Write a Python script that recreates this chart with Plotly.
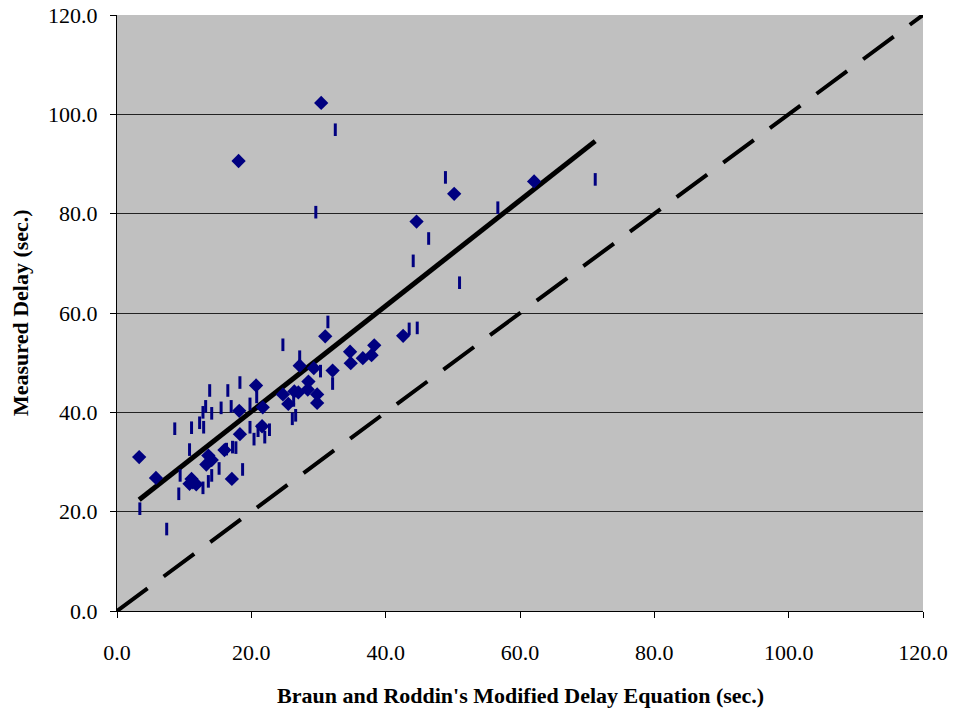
import plotly.graph_objects as go

# Diamond series (x = Braun and Roddin's modified delay, y = measured delay)
diamond_x = [3.3, 5.8, 10.8, 11.3, 11.8, 11.1, 13.6, 14.1, 13.3, 16.0, 17.1, 18.2, 18.3, 18.1,
             20.7, 21.6, 21.7, 24.7, 25.5, 26.4, 27.0, 27.2, 28.5, 28.4, 29.3, 29.8, 29.8, 30.4,
             31.0, 32.1, 34.7, 34.8, 36.6, 37.9, 38.3, 42.6, 44.6, 50.2, 62.1]
diamond_y = [31.0, 26.8, 25.6, 25.9, 25.5, 26.6, 31.3, 30.4, 29.5, 32.4, 26.6, 40.3, 35.6, 90.6,
             45.4, 37.2, 41.0, 43.6, 41.7, 44.2, 44.0, 49.4, 46.2, 44.6, 48.9, 43.6, 41.9, 102.3,
             55.3, 48.4, 52.2, 49.9, 50.9, 51.5, 53.5, 55.4, 78.4, 84.0, 86.5]

# Dash series
dash_x = [3.4, 7.4, 8.6, 9.2, 9.4, 10.8, 11.1, 12.3, 12.9, 12.8, 13.2, 13.8, 14.1, 15.5, 16.5,
          17.0, 12.8, 13.6, 14.1, 15.2, 16.3, 17.2, 17.7, 18.7, 18.3, 19.8, 20.8, 19.8, 20.4,
          21.0, 22.0, 22.7, 24.7, 27.2, 26.3, 30.3, 32.1, 31.4, 26.1, 26.6, 43.5, 44.7, 48.9,
          56.7, 46.4, 44.1, 51.0, 71.2, 32.5, 29.6]
dash_y = [20.6, 16.5, 36.7, 23.6, 27.3, 32.5, 36.9, 37.9, 37.0, 40.0, 41.2, 44.4, 39.8, 40.9, 44.4,
          41.2, 24.8, 26.1, 27.3, 28.7, 32.6, 33.0, 32.9, 28.5, 46.0, 41.7, 43.1, 37.0, 34.6,
          36.3, 35.0, 36.5, 53.6, 51.2, 42.4, 48.3, 45.8, 58.2, 38.7, 39.4, 56.8, 57.0, 87.3,
          81.2, 75.0, 70.5, 66.1, 86.9, 96.9, 80.3]

# Trend line endpoints and equality line
fit_x = [3.3, 71.2]
fit_y = [22.4, 94.6]
eq_x = [0.0, 120.0]
eq_y = [0.0, 120.0]

tick_vals = [0, 20, 40, 60, 80, 100, 120]
tick_text = ["0.0", "20.0", "40.0", "60.0", "80.0", "100.0", "120.0"]

x_title = "Braun and Roddin's Modified Delay Equation (sec.)"
y_title = "Measured Delay (sec.)"

fig = go.Figure()
fig.add_trace(go.Scatter(x=eq_x, y=eq_y, mode="lines",
                         line=dict(color="black", width=4, dash="38px,20px"),
                         showlegend=False, hoverinfo="skip"))
fig.add_trace(go.Scatter(x=fit_x, y=fit_y, mode="lines",
                         line=dict(color="black", width=5),
                         showlegend=False, hoverinfo="skip"))
fig.add_trace(go.Scatter(x=dash_x, y=dash_y, mode="markers",
                         marker=dict(symbol="line-ns", size=9,
                                     line=dict(color="#000080", width=3)),
                         showlegend=False))
fig.add_trace(go.Scatter(x=diamond_x, y=diamond_y, mode="markers",
                         marker=dict(symbol="diamond", size=11, color="#000080",
                                     line=dict(width=0)),
                         showlegend=False))

font_family = "Liberation Serif, Times New Roman, serif"
fig.update_layout(
    width=953, height=712,
    margin=dict(l=117, r=30, t=15, b=101, autoexpand=False),
    paper_bgcolor="white",
    plot_bgcolor="#C0C0C0",
    font=dict(family=font_family, color="black", size=22),
    xaxis=dict(range=[0, 120], tickvals=tick_vals, ticktext=tick_text,
               showgrid=False, zeroline=False, showline=True, linecolor="black",
               linewidth=1, ticks="outside", ticklen=6, tickcolor="black",
               tickfont=dict(size=22), automargin=False, ticklabelstandoff=16),
    yaxis=dict(range=[0, 120], tickvals=tick_vals, ticktext=tick_text,
               showgrid=True, gridcolor="#222222", gridwidth=1,
               zeroline=False, showline=True, linecolor="black",
               linewidth=1, ticks="outside", ticklen=6, tickcolor="black",
               tickfont=dict(size=22), automargin=False, ticklabelstandoff=8),
    annotations=[
        dict(text="<b>" + x_title + "</b>", xref="paper", yref="paper", x=0.5, y=0,
             xanchor="center", yanchor="middle", yshift=-84, showarrow=False,
             font=dict(size=22)),
        dict(text="<b>" + y_title + "</b>", xref="paper", yref="paper", x=0, y=0.5,
             xanchor="center", yanchor="middle", xshift=-97, textangle=-90,
             showarrow=False, font=dict(size=22)),
    ],
)

fig.write_html("out.html")
